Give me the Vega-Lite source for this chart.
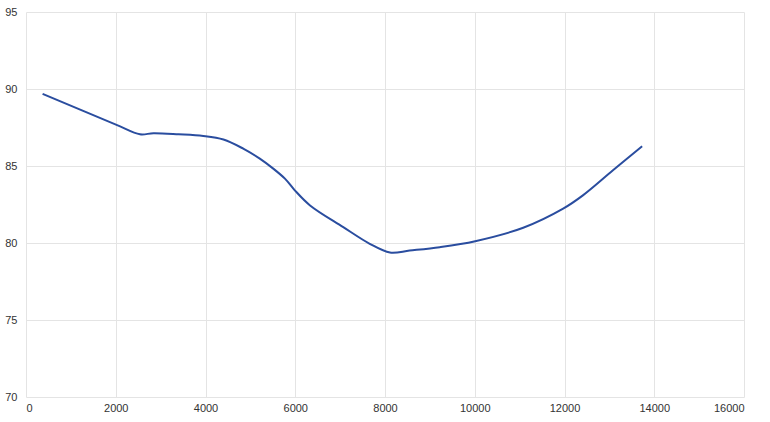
{
  "$schema": "https://vega.github.io/schema/vega-lite/v6.json",
  "background": "white",
  "autosize": {"type": "none"},
  "width": 718,
  "height": 385,
  "padding": {"left": 26, "top": 12, "right": 26, "bottom": 25},
  "data": {
    "values": [
      {"x": 370, "y": 89.68},
      {"x": 2004, "y": 87.69},
      {"x": 2540, "y": 87.06},
      {"x": 2840, "y": 87.13},
      {"x": 3400, "y": 87.06},
      {"x": 3950, "y": 86.95},
      {"x": 4400, "y": 86.72},
      {"x": 4840, "y": 86.13},
      {"x": 5210, "y": 85.48},
      {"x": 5510, "y": 84.83},
      {"x": 5770, "y": 84.18},
      {"x": 5990, "y": 83.42},
      {"x": 6330, "y": 82.44},
      {"x": 7070, "y": 81.03},
      {"x": 7660, "y": 79.95},
      {"x": 8110, "y": 79.38},
      {"x": 8550, "y": 79.51},
      {"x": 9220, "y": 79.73},
      {"x": 10010, "y": 80.12},
      {"x": 11080, "y": 80.99},
      {"x": 11970, "y": 82.23},
      {"x": 12410, "y": 83.09},
      {"x": 13080, "y": 84.72},
      {"x": 13730, "y": 86.28}
    ]
  },
  "mark": {"type": "line", "interpolate": "catmull-rom", "color": "#2a4d9f", "strokeWidth": 2},
  "encoding": {
    "x": {
      "field": "x",
      "type": "quantitative",
      "scale": {"domain": [0, 16000], "nice": false},
      "axis": {"values": [0, 2000, 4000, 6000, 8000, 10000, 12000, 14000, 16000], "format": "d", "title": null, "labelPadding": 5}
    },
    "y": {
      "field": "y",
      "type": "quantitative",
      "scale": {"domain": [70, 95], "nice": false, "zero": false},
      "axis": {"values": [70, 75, 80, 85, 90, 95], "title": null, "labelPadding": 9}
    }
  },
  "config": {
    "view": {"stroke": null},
    "axis": {
      "domain": false,
      "ticks": false,
      "grid": true,
      "gridColor": "#e4e4e4",
      "gridWidth": 1,
      "labelFont": "Liberation Sans",
      "labelFontSize": 11,
      "labelColor": "#333333"
    }
  }
}
